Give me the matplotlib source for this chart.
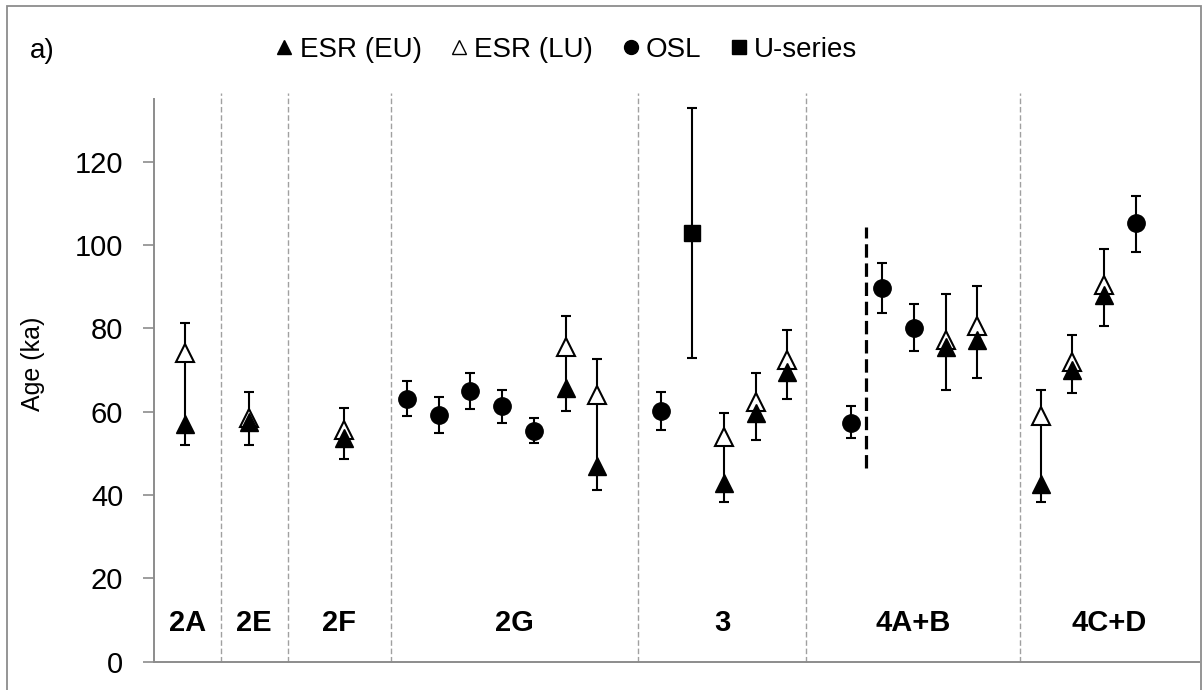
import numpy as np
import matplotlib
matplotlib.use("Agg")
import matplotlib.pyplot as plt
from matplotlib.lines import Line2D
from matplotlib.patches import Rectangle

plt.rcParams["font.family"] = ["Liberation Sans", "DejaVu Sans"]

# ESR samples: early uptake (EU) and linear uptake (LU) ages share one error range
esr_x = np.array([1, 3, 6, 13, 14, 18, 19, 20, 25, 26, 28, 29, 30])
esr_eu = np.array([57.0, 57.6, 53.6, 65.8, 47.0, 42.8, 59.6, 69.6, 75.6, 77.2, 42.6, 70.0, 88.0])
esr_lu = np.array([74.2, 58.6, 55.6, 75.6, 64.0, 54.0, 62.4, 72.4, 77.2, 80.6, 59.0, 72.0, 90.4])
esr_low = np.array([52.0, 52.0, 48.6, 60.3, 41.3, 38.4, 53.2, 63.1, 65.2, 68.1, 38.4, 64.4, 80.6])
esr_high = np.array([81.2, 64.8, 61.0, 83.0, 72.6, 59.8, 69.3, 79.6, 88.2, 90.3, 65.2, 78.4, 99.0])

# OSL samples
osl_x = np.array([8, 9, 10, 11, 12, 16, 22, 23, 24, 31])
osl_age = np.array([63.0, 59.2, 65.0, 61.3, 55.4, 60.2, 57.4, 89.8, 80.2, 105.2])
osl_low = np.array([59.0, 54.9, 60.7, 57.4, 52.4, 55.7, 53.8, 83.8, 74.7, 98.3])
osl_high = np.array([67.4, 63.5, 69.4, 65.2, 58.6, 64.7, 61.4, 95.8, 85.8, 111.8])

# U-series sample
useries_x = np.array([17])
useries_age = np.array([103.0])
useries_low = np.array([73.0])
useries_high = np.array([132.9])

# stratigraphic units and their boundaries along the sample axis
units = ["2A", "2E", "2F", "2G", "3", "4A+B", "4C+D"]
unit_bounds = [0, 2.115, 4.23, 7.49, 15.3, 20.58, 27.35, 33]
sub_boundary_x = 22.5
sub_boundary_y = (46.4, 104.4)

fig = plt.figure(figsize=(12.03, 6.9), dpi=100)
ax = fig.add_axes([0.1278, 0.041, 0.8689, 0.815])

ax.set_xlim(unit_bounds[0], unit_bounds[-1])
ax.set_ylim(0, 135)

# grey dashed dividers between units
for b in unit_bounds[1:-1]:
    ax.plot([b, b], [0, 136.6], color="#a0a0a0", lw=1.0,
            ls=(0, (4, 2)), clip_on=False, zorder=1)

# boundary inside 4A+B
ax.plot([sub_boundary_x] * 2, sub_boundary_y, color="black", lw=2.3,
        ls=(0, (4.2, 1.8)), zorder=1)

eb = dict(fmt="none", ecolor="black", elinewidth=1.5, capsize=3.8,
          capthick=1.5, zorder=2)
ax.errorbar(esr_x, esr_eu, yerr=[esr_eu - esr_low, esr_high - esr_eu], **eb)
ax.errorbar(osl_x, osl_age, yerr=[osl_age - osl_low, osl_high - osl_age], **eb)
ax.errorbar(useries_x, useries_age,
            yerr=[useries_age - useries_low, useries_high - useries_age], **eb)

ax.plot(esr_x, esr_lu, ls="none", marker="^", ms=12.5, mfc="white",
        mec="black", mew=1.5, zorder=3)
ax.plot(esr_x, esr_eu, ls="none", marker="^", ms=12.5, mfc="black",
        mec="black", mew=1.0, zorder=4)
ax.plot(osl_x, osl_age, ls="none", marker="o", ms=12.5, mfc="black",
        mec="black", zorder=3)
ax.plot(useries_x, useries_age, ls="none", marker="s", ms=12, mfc="black",
        mec="black", zorder=3)

# unit names centred within their bounds
for name, lo, hi in zip(units, unit_bounds[:-1], unit_bounds[1:]):
    ax.text((lo + hi) / 2, 9.3, name, ha="center", va="center",
            fontsize=21, fontweight="bold")

ax.set_yticks(np.arange(0, 121, 20))
ax.set_xticks([])
ax.tick_params(axis="y", length=8, width=1.2, color="#8c8c8c", pad=14,
               labelsize=21)
for s in ("top", "right"):
    ax.spines[s].set_visible(False)
for s in ("left", "bottom"):
    ax.spines[s].set_color("#8c8c8c")
    ax.spines[s].set_linewidth(1.4)

ax.set_ylabel("Age (ka)", fontsize=18)
ax.yaxis.set_label_coords(-0.104, 0.53)

handles = [
    Line2D([], [], ls="none", marker="^", ms=10, mfc="black", mec="black"),
    Line2D([], [], ls="none", marker="^", ms=10, mfc="white", mec="black", mew=1.0),
    Line2D([], [], ls="none", marker="o", ms=10, mfc="black", mec="black"),
    Line2D([], [], ls="none", marker="s", ms=10, mfc="black", mec="black"),
]
fig.legend(handles, ["ESR (EU)", "ESR (LU)", "OSL", "U-series"], ncol=4,
           loc="center", bbox_to_anchor=(566 / 1203, 1 - 50 / 690),
           frameon=False, fontsize=20, handlelength=0.7, handletextpad=0.2,
           columnspacing=1.0, borderaxespad=0)

fig.text(30 / 1203, 1 - 51 / 690, "a)", fontsize=20, va="center", ha="left")

# chart border
fig.patches.append(Rectangle((7 / 1203, -0.02), 1194 / 1203, 1.02 - 6 / 690,
                             transform=fig.transFigure, fill=False,
                             edgecolor="#8c8c8c", lw=1.3))

fig.savefig("out.png", dpi=100, facecolor="white")
